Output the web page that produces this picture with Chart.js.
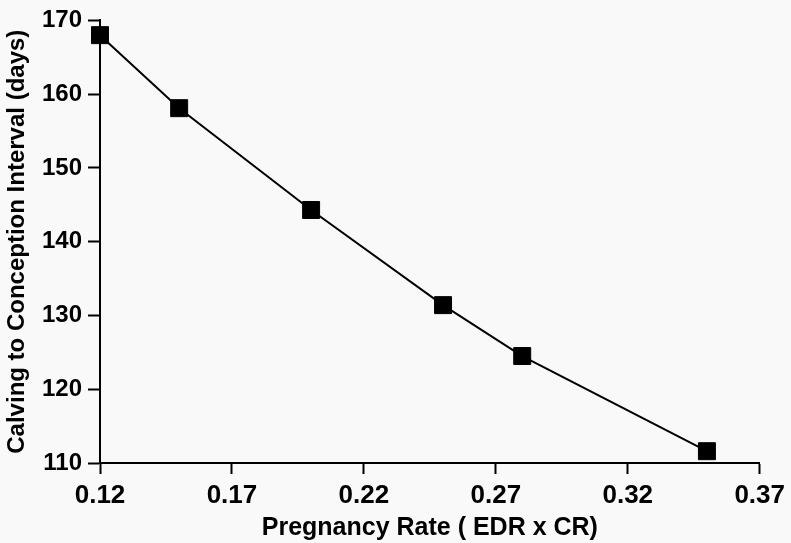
<!DOCTYPE html>
<html>
<head>
<meta charset="utf-8">
<script src="https://cdn.jsdelivr.net/npm/chart.js@4"></script>
<style>
  html, body { margin: 0; padding: 0; background: #f9f9f9; }
  #wrap { width: 791px; height: 543px; }
</style>
</head>
<body>
<div id="wrap"><canvas id="chart" width="791" height="543"></canvas></div>
<script>
const pregnancyRate = [0.12, 0.15, 0.20, 0.25, 0.28, 0.35];
const intervalDays = [168, 158.1, 144.3, 131.4, 124.5, 111.6];
const xTicks = [0.12, 0.17, 0.22, 0.27, 0.32, 0.37];
const yTicks = [110, 120, 130, 140, 150, 160, 170];

const fontFamily = '"Liberation Sans", Arial, Helvetica, sans-serif';

const points = pregnancyRate.map((x, i) => ({ x: x, y: intervalDays[i] }));

new Chart(document.getElementById('chart').getContext('2d'), {
  type: 'line',
  data: {
    datasets: [{
      data: points,
      borderColor: '#000',
      borderWidth: 2,
      backgroundColor: '#000',
      pointStyle: 'rect',
      pointRadius: 12,
      pointBorderWidth: 1,
      pointBackgroundColor: '#000',
      pointBorderColor: '#000',
      tension: 0,
      clip: false
    }]
  },
  options: {
    responsive: false,
    animation: false,
    layout: { padding: { top: 19, right: 25, left: 0, bottom: 0 } },
    plugins: { legend: { display: false }, tooltip: { enabled: false } },
    scales: {
      x: {
        type: 'linear',
        min: 0.12,
        max: 0.37,
        afterBuildTicks: axis => { axis.ticks = xTicks.map(v => ({ value: v })); },
        afterFit: axis => { axis.height = 80; },
        grid: { drawOnChartArea: false, drawTicks: true, tickLength: 11, tickWidth: 2, color: '#000' },
        border: { display: true, color: '#000', width: 2 },
        ticks: {
          color: '#000',
          padding: 6,
          maxRotation: 0,
          font: { family: fontFamily, size: 26, weight: 'bold' },
          callback: v => v.toFixed(2)
        },
        title: {
          display: true,
          text: 'Pregnancy Rate ( EDR x CR)',
          color: '#000',
          padding: { top: 0, bottom: 0 },
          font: { family: fontFamily, size: 25, weight: 'bold' }
        }
      },
      y: {
        type: 'linear',
        min: 110,
        max: 170,
        afterBuildTicks: axis => { axis.ticks = yTicks.map(v => ({ value: v })); },
        afterFit: axis => { axis.width = 100; },
        grid: { drawOnChartArea: false, drawTicks: true, tickLength: 12, tickWidth: 2, color: '#000' },
        border: { display: true, color: '#000', width: 2 },
        ticks: {
          color: '#000',
          padding: 6,
          font: { family: fontFamily, size: 24, weight: 'bold' }
        },
        title: {
          display: true,
          text: 'Calving to Conception Interval (days)',
          color: '#000',
          padding: { top: 3, bottom: 0 },
          font: { family: fontFamily, size: 24, weight: 'bold' }
        }
      }
    }
  }
});
</script>
</body>
</html>
